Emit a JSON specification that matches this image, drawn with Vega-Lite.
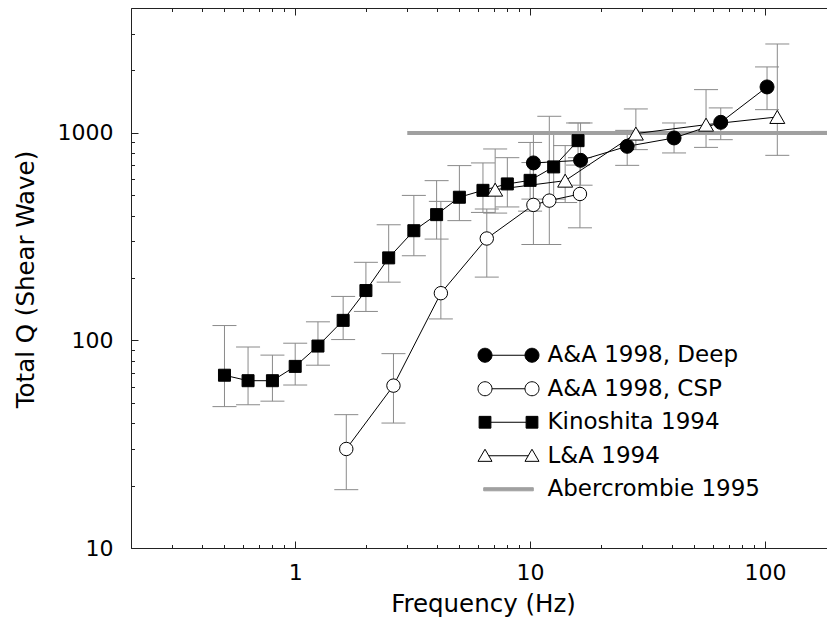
{
  "$schema": "https://vega.github.io/schema/vega-lite/v6.json",
  "autosize": {"type": "none"},
  "padding": {"left": 131, "top": 8, "right": 0, "bottom": 69},
  "width": 696,
  "height": 540,
  "background": "white",
  "config": {
    "view": {"stroke": null},
    "axis": {"labelFont": "DejaVu Sans", "titleFont": "DejaVu Sans", "labelColor": "black", "titleColor": "black", "domainColor": "#222", "tickColor": "#222", "grid": false, "titleFontWeight": "normal"}
  },
  "datasets": {
    "pts": [
      {"series": "Kinoshita 1994", "freq": 0.5, "q": 68, "lo": 48, "hi": 118},
      {"series": "Kinoshita 1994", "freq": 0.63, "q": 64, "lo": 49, "hi": 93},
      {"series": "Kinoshita 1994", "freq": 0.8, "q": 64, "lo": 51, "hi": 85},
      {"series": "Kinoshita 1994", "freq": 1.0, "q": 75, "lo": 61, "hi": 97},
      {"series": "Kinoshita 1994", "freq": 1.25, "q": 94, "lo": 76, "hi": 123},
      {"series": "Kinoshita 1994", "freq": 1.6, "q": 125, "lo": 101, "hi": 163},
      {"series": "Kinoshita 1994", "freq": 2.0, "q": 174, "lo": 138, "hi": 238},
      {"series": "Kinoshita 1994", "freq": 2.5, "q": 250, "lo": 191, "hi": 361},
      {"series": "Kinoshita 1994", "freq": 3.2, "q": 338, "lo": 256, "hi": 500},
      {"series": "Kinoshita 1994", "freq": 4.0, "q": 404, "lo": 308, "hi": 589},
      {"series": "Kinoshita 1994", "freq": 5.0, "q": 490, "lo": 378, "hi": 696},
      {"series": "Kinoshita 1994", "freq": 6.3, "q": 529, "lo": 414, "hi": 717},
      {"series": "Kinoshita 1994", "freq": 8.0, "q": 568, "lo": 440, "hi": 760},
      {"series": "Kinoshita 1994", "freq": 10.0, "q": 591, "lo": 420, "hi": 900},
      {"series": "Kinoshita 1994", "freq": 12.6, "q": 686, "lo": 480, "hi": 1000},
      {"series": "Kinoshita 1994", "freq": 16.0, "q": 918, "lo": 700, "hi": 1117},
      {"series": "A&A 1998, CSP", "freq": 1.65, "q": 30, "lo": 19.1, "hi": 43.9},
      {"series": "A&A 1998, CSP", "freq": 2.62, "q": 60.6, "lo": 40, "hi": 86.4},
      {"series": "A&A 1998, CSP", "freq": 4.17, "q": 169, "lo": 127, "hi": 468},
      {"series": "A&A 1998, CSP", "freq": 6.54, "q": 310, "lo": 202, "hi": 430},
      {"series": "A&A 1998, CSP", "freq": 10.33, "q": 450, "lo": 290, "hi": 720},
      {"series": "A&A 1998, CSP", "freq": 12.07, "q": 472, "lo": 290, "hi": 1203},
      {"series": "A&A 1998, CSP", "freq": 16.3, "q": 508, "lo": 349, "hi": 760},
      {"series": "A&A 1998, Deep", "freq": 10.33, "q": 717, "lo": 480, "hi": 1000},
      {"series": "A&A 1998, Deep", "freq": 16.4, "q": 738, "lo": 560, "hi": 1117},
      {"series": "A&A 1998, Deep", "freq": 25.9, "q": 862, "lo": 698, "hi": 1029},
      {"series": "A&A 1998, Deep", "freq": 41, "q": 946, "lo": 801, "hi": 1117},
      {"series": "A&A 1998, Deep", "freq": 64.8, "q": 1125, "lo": 928, "hi": 1320},
      {"series": "A&A 1998, Deep", "freq": 102, "q": 1666, "lo": 1295, "hi": 2080},
      {"series": "L&A 1994", "freq": 7.1, "q": 533, "lo": 411, "hi": 837},
      {"series": "L&A 1994", "freq": 14.1, "q": 589, "lo": 462, "hi": 869},
      {"series": "L&A 1994", "freq": 28.2, "q": 993, "lo": 831, "hi": 1305},
      {"series": "L&A 1994", "freq": 56.1, "q": 1096, "lo": 852, "hi": 1617},
      {"series": "L&A 1994", "freq": 112.8, "q": 1194, "lo": 780, "hi": 2683}
    ],
    "aber": [
      {"series": "Abercrombie 1995", "from": 3, "to": 200, "q": 1000}
    ]
  },
  "layer": [
    {
      "data": {"name": "pts"},
      "mark": {"type": "rule", "color": "#8a8a8a", "strokeWidth": 1},
      "encoding": {
        "x": {"field": "freq", "type": "quantitative", "scale": {"type": "log", "domain": [0.2, 183.6], "nice": false},
          "axis": {"orient": "bottom", "values": [0.2,0.3,0.4,0.5,0.6,0.7,0.8,0.9,1,2,3,4,5,6,7,8,9,10,20,30,40,50,60,70,80,90,100],
            "labelExpr": "datum.value == 1 || datum.value == 10 || datum.value == 100 ? datum.value + '' : ''",
            "tickSize": {"condition": {"test": "datum.value == 1 || datum.value == 10 || datum.value == 100", "value": -7}, "value": -3.5},
            "labelPadding": 21, "labelFontSize": 22, "labelOverlap": false, "labelFlush": false,
            "title": "Frequency (Hz)", "titleFontSize": 24.5, "titleX": 352, "titleY": 63, "titleBaseline": "alphabetic", "titleAlign": "center"}},
        "y": {"field": "lo", "type": "quantitative", "title": "Total Q (Shear Wave)", "scale": {"type": "log", "domain": [10, 4000], "nice": false},
          "axis": {"orient": "left", "values": [10,20,30,40,50,60,70,80,90,100,200,300,400,500,600,700,800,900,1000,2000,3000],
            "labelExpr": "datum.value == 10 || datum.value == 100 || datum.value == 1000 ? datum.value + '' : ''",
            "tickSize": {"condition": {"test": "datum.value == 10 || datum.value == 100 || datum.value == 1000", "value": -7}, "value": -3.5},
            "labelPadding": 25, "labelFontSize": 22, "labelOverlap": false, "labelFlush": false,
            "titleFontSize": 24.5, "titleX": -98, "titleY": 271, "titleBaseline": "alphabetic", "titleAlign": "center", "titleAngle": -90}},
        "y2": {"field": "hi"}
      }
    },
    {
      "data": {"name": "pts"},
      "transform": [{"fold": ["lo", "hi"], "as": ["k", "v"]}],
      "mark": {"type": "point", "shape": "stroke", "size": 576, "stroke": "#8a8a8a", "strokeWidth": 1, "opacity": 1},
      "encoding": {
        "x": {"field": "freq", "type": "quantitative",
          "axis": {"orient": "top", "values": [0.2,0.3,0.4,0.5,0.6,0.7,0.8,0.9,1,2,3,4,5,6,7,8,9,10,20,30,40,50,60,70,80,90,100],
            "labels": false, "title": null,
            "tickSize": {"condition": {"test": "datum.value == 1 || datum.value == 10 || datum.value == 100", "value": -7}, "value": -3.5}}},
        "y": {"field": "v", "type": "quantitative", "title": "Total Q (Shear Wave)"}
      }
    },
    {
      "data": {"name": "aber"},
      "mark": {"type": "rule", "color": "#a0a0a0", "strokeWidth": 4, "clip": true},
      "encoding": {
        "x": {"field": "from", "type": "quantitative", "axis": null},
        "x2": {"field": "to"},
        "y": {"field": "q", "type": "quantitative", "title": "Total Q (Shear Wave)"}
      }
    },
    {
      "data": {"name": "pts"},
      "mark": {"type": "line", "color": "black", "strokeWidth": 1},
      "encoding": {
        "x": {"field": "freq", "type": "quantitative", "axis": null},
        "y": {"field": "q", "type": "quantitative", "title": "Total Q (Shear Wave)"},
        "detail": {"field": "series"},
        "order": {"field": "freq", "type": "quantitative"}
      }
    },
    {
      "data": {"name": "pts"},
      "transform": [{"filter": "datum.series === 'Kinoshita 1994'"}],
      "mark": {"type": "point", "shape": "square", "filled": true, "fill": "black", "stroke": "black", "strokeWidth": 1, "size": 144, "opacity": 1},
      "encoding": {
        "x": {"field": "freq", "type": "quantitative", "axis": null},
        "y": {"field": "q", "type": "quantitative", "title": "Total Q (Shear Wave)"}
      }
    },
    {
      "data": {"name": "pts"},
      "transform": [{"filter": "datum.series === 'A&A 1998, CSP'"}],
      "mark": {"type": "point", "shape": "circle", "filled": true, "fill": "white", "stroke": "black", "strokeWidth": 1, "size": 180, "opacity": 1},
      "encoding": {
        "x": {"field": "freq", "type": "quantitative", "axis": null},
        "y": {"field": "q", "type": "quantitative", "title": "Total Q (Shear Wave)"}
      }
    },
    {
      "data": {"name": "pts"},
      "transform": [{"filter": "datum.series === 'A&A 1998, Deep'"}],
      "mark": {"type": "point", "shape": "circle", "filled": true, "fill": "black", "stroke": "black", "strokeWidth": 1, "size": 196, "opacity": 1},
      "encoding": {
        "x": {"field": "freq", "type": "quantitative", "axis": null},
        "y": {"field": "q", "type": "quantitative", "title": "Total Q (Shear Wave)"}
      }
    },
    {
      "data": {"name": "pts"},
      "transform": [{"filter": "datum.series === 'L&A 1994'"}],
      "mark": {"type": "point", "shape": "triangle-up", "filled": true, "fill": "white", "stroke": "black", "strokeWidth": 1, "size": 225, "opacity": 1},
      "encoding": {
        "x": {"field": "freq", "type": "quantitative", "axis": null},
        "y": {"field": "q", "type": "quantitative", "title": "Total Q (Shear Wave)"}
      }
    },
    {
      "data": {"name": "aber"},
      "mark": {"type": "point", "filled": true, "size": 3844, "strokeWidth": 1, "opacity": 1, "clip": true},
      "encoding": {
        "x": {"field": "to", "type": "quantitative", "axis": null},
        "y": {"field": "q", "type": "quantitative", "title": "Total Q (Shear Wave)"},
        "shape": {"field": "series", "type": "nominal",
          "scale": {"domain": ["A&A 1998, Deep", "A&A 1998, CSP", "Kinoshita 1994", "L&A 1994", "Abercrombie 1995"],
            "range": [
              "M-0.532,0C-0.532,0.125,-0.633,0.226,-0.758,0.226C-0.883,0.226,-0.984,0.125,-0.984,0C-0.984,-0.125,-0.883,-0.226,-0.758,-0.226C-0.633,-0.226,-0.532,-0.125,-0.532,0ZM-0.532,0L0.532,0M0.984,0C0.984,0.125,0.883,0.226,0.758,0.226C0.633,0.226,0.532,0.125,0.532,0C0.532,-0.125,0.633,-0.226,0.758,-0.226C0.883,-0.226,0.984,-0.125,0.984,0Z",
              "M-0.532,0C-0.532,0.125,-0.633,0.226,-0.758,0.226C-0.883,0.226,-0.984,0.125,-0.984,0C-0.984,-0.125,-0.883,-0.226,-0.758,-0.226C-0.633,-0.226,-0.532,-0.125,-0.532,0ZM-0.532,0L0.532,0M0.984,0C0.984,0.125,0.883,0.226,0.758,0.226C0.633,0.226,0.532,0.125,0.532,0C0.532,-0.125,0.633,-0.226,0.758,-0.226C0.883,-0.226,0.984,-0.125,0.984,0Z",
              "M-0.948,-0.19L-0.568,-0.19L-0.568,0.19L-0.948,0.19ZM-0.568,0L0.568,0M0.568,-0.19L0.948,-0.19L0.948,0.19L0.568,0.19Z",
              "M-0.758,-0.21L-0.532,0.18L-0.984,0.18ZM-0.636,0L0.636,0M0.758,-0.21L0.984,0.18L0.532,0.18Z",
              "M-0.8,-0.05L0.8,-0.05L0.8,0.05L-0.8,0.05Z"
            ]},
          "legend": {"orient": "none", "legendX": 346, "legendY": 331, "title": null, "symbolSize": 3844, "clipHeight": 32.5, "rowPadding": 0.5,
            "labelFont": "DejaVu Sans", "labelFontSize": 23, "labelColor": "black", "labelOffset": 7.5, "labelLimit": 400, "padding": 0, "symbolStrokeWidth": 1, "symbolOpacity": 1}},
        "fill": {"field": "series", "type": "nominal",
          "scale": {"domain": ["A&A 1998, Deep", "A&A 1998, CSP", "Kinoshita 1994", "L&A 1994", "Abercrombie 1995"], "range": ["black", "white", "black", "white", "#a0a0a0"]},
          "legend": {"orient": "none", "legendX": 346, "legendY": 331, "title": null, "symbolSize": 3844, "clipHeight": 32.5, "rowPadding": 0.5,
            "labelFont": "DejaVu Sans", "labelFontSize": 23, "labelColor": "black", "labelOffset": 7.5, "labelLimit": 400, "padding": 0, "symbolStrokeWidth": 1, "symbolOpacity": 1}},
        "stroke": {"field": "series", "type": "nominal",
          "scale": {"domain": ["A&A 1998, Deep", "A&A 1998, CSP", "Kinoshita 1994", "L&A 1994", "Abercrombie 1995"], "range": ["black", "black", "black", "black", "#a0a0a0"]},
          "legend": {"orient": "none", "legendX": 346, "legendY": 331, "title": null, "symbolSize": 3844, "clipHeight": 32.5, "rowPadding": 0.5,
            "labelFont": "DejaVu Sans", "labelFontSize": 23, "labelColor": "black", "labelOffset": 7.5, "labelLimit": 400, "padding": 0, "symbolStrokeWidth": 1, "symbolOpacity": 1}}
      }
    }
  ],
  "resolve": {"scale": {"x": "shared", "y": "shared"}, "axis": {"x": "independent"}}
}
